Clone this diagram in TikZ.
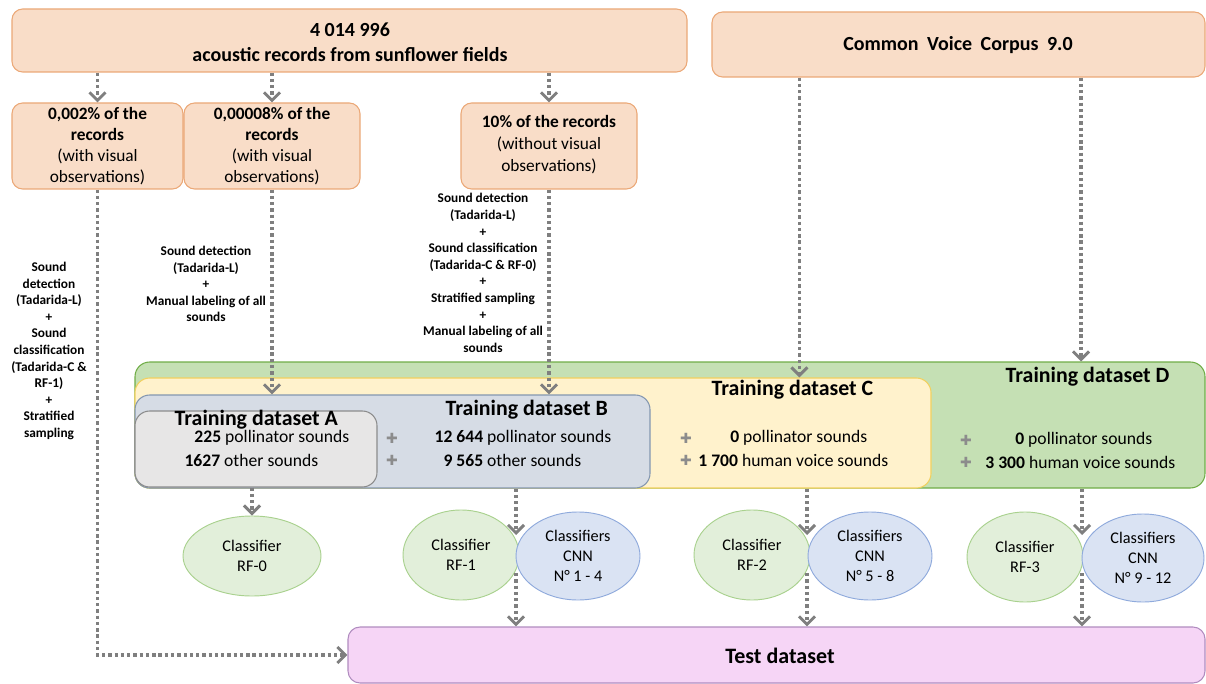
\documentclass[tikz,border=0pt]{standalone}
\usepackage{fontspec}
\setmainfont{Carlito}
\newfontfamily\djv{DejaVu Sans}
\usetikzlibrary{arrows.meta,shapes.geometric,fit,calc}
\definecolor{peachF}{HTML}{F9DDC8}
\definecolor{peachD}{HTML}{EBA877}
\definecolor{grnF}{HTML}{C5E0B4}
\definecolor{grnD}{HTML}{70AD47}
\definecolor{yelF}{HTML}{FFF2CC}
\definecolor{yelD}{HTML}{F2D05E}
\definecolor{bluF}{HTML}{D6DCE5}
\definecolor{bluD}{HTML}{8497B0}
\definecolor{gryF}{HTML}{E7E6E6}
\definecolor{gryD}{HTML}{8C8C8C}
\definecolor{rfF}{HTML}{E2EFDA}
\definecolor{rfD}{HTML}{A9D18E}
\definecolor{cnnF}{HTML}{DAE3F3}
\definecolor{cnnD}{HTML}{8FAADC}
\definecolor{tstF}{HTML}{F6D5F6}
\definecolor{tstD}{HTML}{B08CBF}
\definecolor{arrG}{HTML}{7F7F7F}
\definecolor{plusG}{HTML}{8C8C8C}
\begin{document}
\begin{tikzpicture}[x=0.75pt,y=-0.75pt,
  box/.style={rounded corners=8pt, line width=0.8pt, inner sep=0pt},
  peach/.style={box, fill=peachF, draw=peachD},
  dsbox/.style={box, rounded corners=11pt},
  arr/.style={draw=arrG, line width=2.5pt, dash pattern=on 2.5pt off 2.2pt,
    -{Straight Barb[length=6pt,width=12pt,line width=2.2pt]}},
  head/.style={font=\fontsize{15}{18.75}\selectfont\bfseries, align=center},
  small/.style={font=\fontsize{13}{15.75}\selectfont, align=center},
  proc/.style={font=\fontsize{10}{12.45}\selectfont\bfseries, align=center},
  dstitle/.style={font=\fontsize{16.4}{19}\selectfont\bfseries, anchor=west},
  dsline/.style={font=\fontsize{13.2}{16}\selectfont, anchor=east},
  plusmark/.style={font=\djv\fontsize{10.5}{12}\selectfont, text=plusG},
  rfell/.style={ellipse, draw=rfD, fill=rfF, line width=0.7pt, inner sep=0pt, align=center,
    font=\fontsize{12.2}{15}\selectfont},
  cnnell/.style={ellipse, draw=cnnD, fill=cnnF, line width=0.7pt, inner sep=0pt, align=center,
    font=\fontsize{12.2}{15}\selectfont}
]
\useasboundingbox (0,0) rectangle (1206,684);

% top boxes
\node[peach, fit={(12,9)(687,72)}] (top) {};
\node[head] (toptxt) at (350,42) {4 014 996\\acoustic records from sunflower fields};
\node[peach, fit={(712,12)(1205,77)}] (cv) {};
\node[head] (cvtxt) at (958,45) {Common\hspace{0.2em} Voice\hspace{0.2em} Corpus\hspace{0.2em} 9.0};

\node[peach, fit={(12,103)(183,189)}] (p2) {};
\node[small] at (p2.center) {\textbf{0,002\% of the}\\\textbf{records}\\(with visual\\observations)};
\node[peach, fit={(184,103)(360,189)}] (p8) {};
\node[small] at (p8.center) {\textbf{0,00008\% of the}\\\textbf{records}\\(with visual\\observations)};
\node[peach, fit={(461,103)(637,189)}] (p10) {};
\node[small, font=\fontsize{13}{16.5}\selectfont] at (549,145) {\textbf{10\% of the records}\\(without visual\\observations)};

% process labels
\node[proc] (l1) at (49,351) {Sound\\detection\\(Tadarida-L)\\+\\Sound\\classification\\(Tadarida-C \&\\RF-1)\\+\\Stratified\\sampling};
\node[proc] (l2) at (206,284) {Sound detection\\(Tadarida-L)\\+\\Manual labeling of all\\sounds};
\node[proc] (l3) at (483,273) {Sound detection\\(Tadarida-L)\\+\\Sound classification\\(Tadarida-C \& RF-0)\\+\\Stratified sampling\\+\\Manual labeling of all\\sounds};

% training datasets
\node[dsbox, fill=grnF, draw=grnD, fit={(135,362)(1205,488)}] (D) {};
\node[dsbox, fill=yelF, draw=yelD, fit={(135,378)(931,488)}] (C) {};
\node[dsbox, fill=bluF, draw=bluD, fit={(135,395)(650,488)}] (B) {};
\node[dsbox, fill=gryF, draw=gryD, fit={(135,411)(377,487)}] (A) {};

\node[dstitle] at (170,420) {Training dataset A};
\node[dsline] at (354,438) {\textbf{225} pollinator sounds};
\node[dsline] at (323,460) {\textbf{1627} other sounds};

\node[dstitle] at (441,410) {Training dataset B};
\node[plusmark] at (392,438) {✚};
\node[plusmark] at (392,460) {✚};
\node[dsline] at (616,438) {\textbf{12 644} pollinator sounds};
\node[dsline] at (586,460) {\textbf{9 565} other sounds};

\node[dstitle] at (707,390) {Training dataset C};
\node[plusmark] at (686,438) {✚};
\node[plusmark] at (686,460) {✚};
\node[dsline] at (872,438) {\textbf{0} pollinator sounds};
\node[dsline] at (893,460) {\textbf{1 700} human voice sounds};

\node[dstitle] at (1001,377) {Training dataset D};
\node[plusmark] at (966,440) {✚};
\node[plusmark] at (966,462) {✚};
\node[dsline] at (1157,440) {\textbf{0} pollinator sounds};
\node[dsline] at (1180,462) {\textbf{3 300} human voice sounds};

% classifiers
\node[rfell, minimum width=103.5pt, minimum height=60pt] (rf0) at (252,556) {Classifier\\RF-0};
\node[rfell, minimum width=87pt, minimum height=67.5pt] (rf1) at (461,555) {Classifier\\RF-1};
\node[cnnell, minimum width=93pt, minimum height=66pt] (cnn1) at (578,556) {Classifiers\\CNN\\N° 1 - 4};
\node[rfell, minimum width=87pt, minimum height=67.5pt] (rf2) at (752,555) {Classifier\\RF-2};
\node[cnnell, minimum width=93pt, minimum height=66pt] (cnn2) at (870,556) {Classifiers\\CNN\\N° 5 - 8};
\node[rfell, minimum width=87pt, minimum height=67.5pt] (rf3) at (1025,557) {Classifier\\RF-3};
\node[cnnell, minimum width=91.5pt, minimum height=66pt] (cnn3) at (1143,558) {Classifiers\\CNN\\N° 9 - 12};

% test dataset
\node[box, rounded corners=9pt, fill=tstF, draw=tstD, fit={(348,627)(1205,683)}] (test) {};
\node[font=\fontsize{16.5}{19}\selectfont\bfseries] at (780,656) {Test dataset};

% connectors
\draw[arr] (top.south -| p2.north) -- (p2.north);
\draw[arr] (top.south -| p8.north) -- (p8.north);
\draw[arr] (top.south -| p10.north) -- (p10.north);
\draw[arr] (p8.south) -- (p8.south |- B.north);
\draw[arr] (p10.south) -- (p10.south |- B.north);
\coordinate (cvc) at ($(cv.south west)!0.178!(cv.south east)$);
\coordinate (cvd) at ($(cv.south west)!0.748!(cv.south east)$);
\draw[arr] (cvc) -- (cvc |- C.north);
\draw[arr] (cvd) -- (cvd |- D.north);
\draw[arr] (rf0.north |- A.south) -- (rf0.north);
\coordinate (j1t) at (516,535);
\coordinate (j1b) at (516,573);
\coordinate (j2t) at (807,535);
\coordinate (j2b) at (807,573);
\coordinate (j3t) at (1082,535);
\coordinate (j3b) at (1082,573);
\draw[arr] (j1t |- B.south) -- (j1t);
\draw[arr] (j1b) -- (j1b |- test.north);
\draw[arr] (j2t |- C.south) -- (j2t);
\draw[arr] (j2b) -- (j2b |- test.north);
\draw[arr] (j3t |- D.south) -- (j3t);
\draw[arr] (j3b) -- (j3b |- test.north);
\draw[arr] (p2.south) |- (test.west);
\end{tikzpicture}
\end{document}
